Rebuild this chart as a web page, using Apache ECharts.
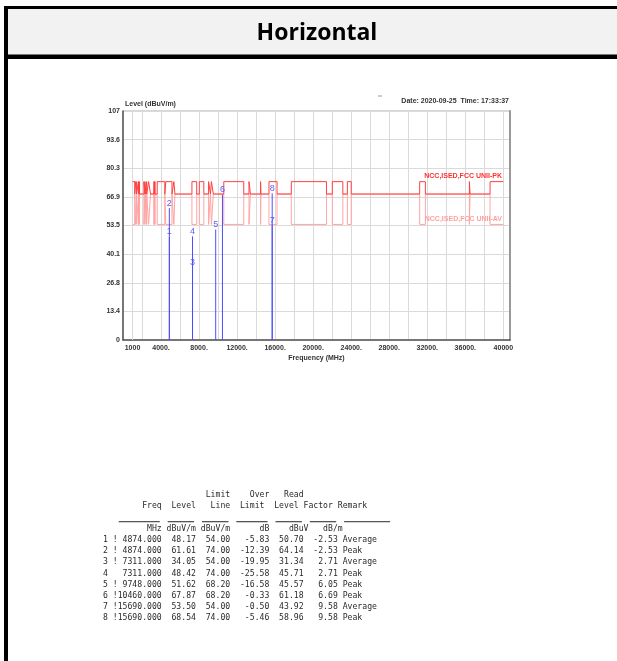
<!DOCTYPE html>
<html><head><meta charset="utf-8">
<script src="https://cdn.jsdelivr.net/npm/echarts@6.0.0/dist/echarts.min.js"></script>
<style>html,body{margin:0;padding:0;background:#fff}#c{width:617px;height:661px}</style>
</head><body><div id="c"></div>
<script>
// ---- data ----
const restrictedBands = [[1000,1240],[1300,1427],[1435,1626.5],[1645.5,1646.5],[1660,1710],[1718.8,1722.2],[2200,2300],[2310,2390],[2483.5,2500],[2690,2900],[3260,3267],[3332,3339],[3345.8,3358],[3600,4400],[4500,5150],[5350,5460],[7250,7750],[8025,8500],[9000,9200],[9300,9500],[10600,12700],[13250,13400],[14470,14500],[15350,16200],[17700,21400],[22010,23120],[23600,24000],[31200,31800],[36430,36500],[38600,40000]];
const limitStart = 1000, limitEnd = 40000;
const pkRestricted = 74, avRestricted = 54, unrestrictedLimit = 68.2;
const markerNo = [1,2,3,4,5,6,7,8];
const markerFlag = ['!','!','!',' ','!','!','!','!'];
const markerFreq = [4874,4874,7311,7311,9748,10460,15690,15690];
const markerLevel = [48.17,61.61,34.05,48.42,51.62,67.87,53.50,68.54];
const markerLimit = [54,74,54,74,68.2,68.2,54,74];
const markerOver = [-5.83,-12.39,-19.95,-25.58,-16.58,-0.33,-0.50,-5.46];
const markerRead = [50.70,64.14,31.34,45.71,45.57,61.18,43.92,58.96];
const markerFactor = [-2.53,-2.53,2.71,2.71,6.05,6.69,9.58,9.58];
const markerRemark = ['Average','Peak','Average','Peak','Peak','Peak','Average','Peak'];
const xTickValues = [1000,4000,8000,12000,16000,20000,24000,28000,32000,36000,40000];
const xTickLabels = ['1000','4000.','8000.','12000.','16000.','20000.','24000.','28000.','32000.','36000.','40000'];
const yTickLabels = ['0','13.4','26.8','40.1','53.5','66.9','80.3','93.6','107'];

function buildLimit(inside, outside){
  const pts=[]; let prev=limitStart;
  restrictedBands.forEach(([lo,hi])=>{
    if(lo>prev){ pts.push([prev,outside],[lo,outside]); }
    pts.push([lo,inside],[hi,inside]);
    prev=hi;
  });
  if(prev<limitEnd) pts.push([prev,outside],[limitEnd,outside]);
  return pts;
}

// table text
const fmt=(v,w)=>v.toFixed(2).padStart(w);
const tableLines=[
  ' '.repeat(21)+'Limit'+'    '+'Over'+'   '+'Read',
  '        Freq  Level   Line  Limit  Level Factor Remark',
  '',
  '         MHz dBuV/m dBuV/m      dB    dBuV   dB/m'
];
markerNo.forEach((n,i)=>{
  tableLines.push(n+' '+markerFlag[i]+markerFreq[i].toFixed(3).padStart(9)+fmt(markerLevel[i],7)+fmt(markerLimit[i],7)+fmt(markerOver[i],8)+fmt(markerRead[i],7)+fmt(markerFactor[i],7)+' '+markerRemark[i]);
});
const tableX=103, charW=4.9, tableTop=489.4, lineH=11.2;
const underlineCols=[[3,11],[13,18],[20,25],[27,33],[35,40],[42,47],[49,58]];

const LF='"Liberation Sans", Arial, sans-serif';
const chart=echarts.init(document.getElementById('c'),null,{renderer:'canvas'});
const graphics=[
  {type:'rect',shape:{x:8,y:9,width:609,height:46},style:{fill:'#f2f2f2'},silent:true},
  {type:'rect',shape:{x:4,y:6,width:4,height:655},style:{fill:'#000'},silent:true},
  {type:'rect',shape:{x:4,y:6,width:613,height:3},style:{fill:'#000'},silent:true},
  {type:'rect',shape:{x:4,y:54.5,width:613,height:4.5},style:{fill:'#000'},silent:true},
  {type:'text',x:317,y:33,style:{text:'Horizontal',font:'bold 23px "Open Sans", sans-serif',fill:'#000',textAlign:'center',textVerticalAlign:'middle'}},
  {type:'text',x:509,y:101.3,style:{text:'Date: 2020-09-25  Time: 17:33:37',font:'bold 7px '+LF,fill:'#333',textAlign:'right',textVerticalAlign:'middle'}},
  {type:'line',shape:{x1:378,y1:96,x2:382,y2:96},style:{stroke:'#999',lineWidth:1}},
  {type:'text',x:502,y:176.5,style:{text:'NCC,ISED,FCC UNII-PK',font:'bold 7px '+LF,fill:'#ff3030',textAlign:'right',textVerticalAlign:'middle'},z:10},
  {type:'text',x:502,y:219,style:{text:'NCC,ISED,FCC UNII-AV',font:'bold 7px '+LF,fill:'#ffa0a0',textAlign:'right',textVerticalAlign:'middle'},z:10},
  {type:'text',x:tableX,y:tableTop,style:{text:tableLines.join('\n'),font:'8.15px "DejaVu Sans Mono", monospace',lineHeight:lineH,fill:'#2a2a2a',textAlign:'left',textVerticalAlign:'top'}}
];
underlineCols.forEach(([a,b])=>{
  graphics.push({type:'rect',shape:{x:tableX+a*charW+1,y:521,width:(b-a+1)*charW-3,height:1.3},style:{fill:'#555'},silent:true});
});

chart.setOption({
  backgroundColor:'#fff',
  animation:false,
  grid:{left:123,top:111,width:387,height:229,show:true,borderColor:'#b0b0b0',borderWidth:1,containLabel:false},
  xAxis:{type:'value',min:0,max:40700,interval:2000,
    name:'Frequency (MHz)',nameLocation:'middle',nameGap:15,
    nameTextStyle:{fontSize:7,fontWeight:'bold',color:'#333',fontFamily:LF},
    axisLine:{show:true,lineStyle:{color:'#555',width:1.5}},
    axisTick:{show:false},
    splitLine:{show:true,lineStyle:{color:'#dadada',width:1}},
    axisLabel:{customValues:xTickValues,formatter:(v)=>xTickLabels[xTickValues.indexOf(v)]||'',fontSize:7,fontWeight:'bold',color:'#333',fontFamily:LF,margin:5,showMinLabel:true,showMaxLabel:true,hideOverlap:false}
  },
  yAxis:[{type:'value',min:0,max:107,interval:13.375,
    name:'Level (dBuV/m)',nameLocation:'end',nameGap:2,
    nameTextStyle:{fontSize:7,fontWeight:'bold',color:'#333',fontFamily:LF,align:'left',verticalAlign:'bottom',padding:[0,0,0,2]},
    axisLine:{show:true,lineStyle:{color:'#555',width:1.5}},
    axisTick:{show:false},
    splitLine:{show:true,lineStyle:{color:'#dadada',width:1}},
    axisLabel:{formatter:(v)=>yTickLabels[Math.round(v/13.375)],fontSize:7,fontWeight:'bold',color:'#333',fontFamily:LF,margin:3}
  },{type:'value',min:0,max:107,position:'right',
    axisLine:{show:true,lineStyle:{color:'#999',width:2}},axisTick:{show:false},axisLabel:{show:false},splitLine:{show:false}}],
  series:[
    {type:'line',name:'AV',data:buildLimit(avRestricted,unrestrictedLimit),showSymbol:false,symbol:'none',
     lineStyle:{color:'#ffa5a5',width:1},z:2,
     markLine:{silent:true,symbol:'none',label:{show:false},lineStyle:{color:'#dadada',type:'solid',width:1},data:[{xAxis:1000}],z:1}},
    {type:'line',name:'PK',data:buildLimit(pkRestricted,unrestrictedLimit),showSymbol:false,symbol:'none',
     lineStyle:{color:'#ff4040',width:1},z:3},
    {type:'custom',name:'markers',data:markerFreq.map((f,i)=>[f,markerLevel[i],markerNo[i]]),z:5,
     renderItem:(params,api)=>{
       const f=api.value(0), lv=api.value(1), no=api.value(2);
       const p0=api.coord([f,0]), p1=api.coord([f,lv]);
       return {type:'group',children:[
         {type:'line',shape:{x1:p0[0],y1:p0[1],x2:p1[0],y2:p1[1]},style:{stroke:'#4d4dff',lineWidth:1}},
         {type:'text',x:p1[0],y:p1[1]-5,style:{text:String(no),fill:'#5b5bff',font:'9px '+LF,textAlign:'center',textVerticalAlign:'middle'}}
       ]};
     }}
  ],
  graphic:graphics
});
</script></body></html>
